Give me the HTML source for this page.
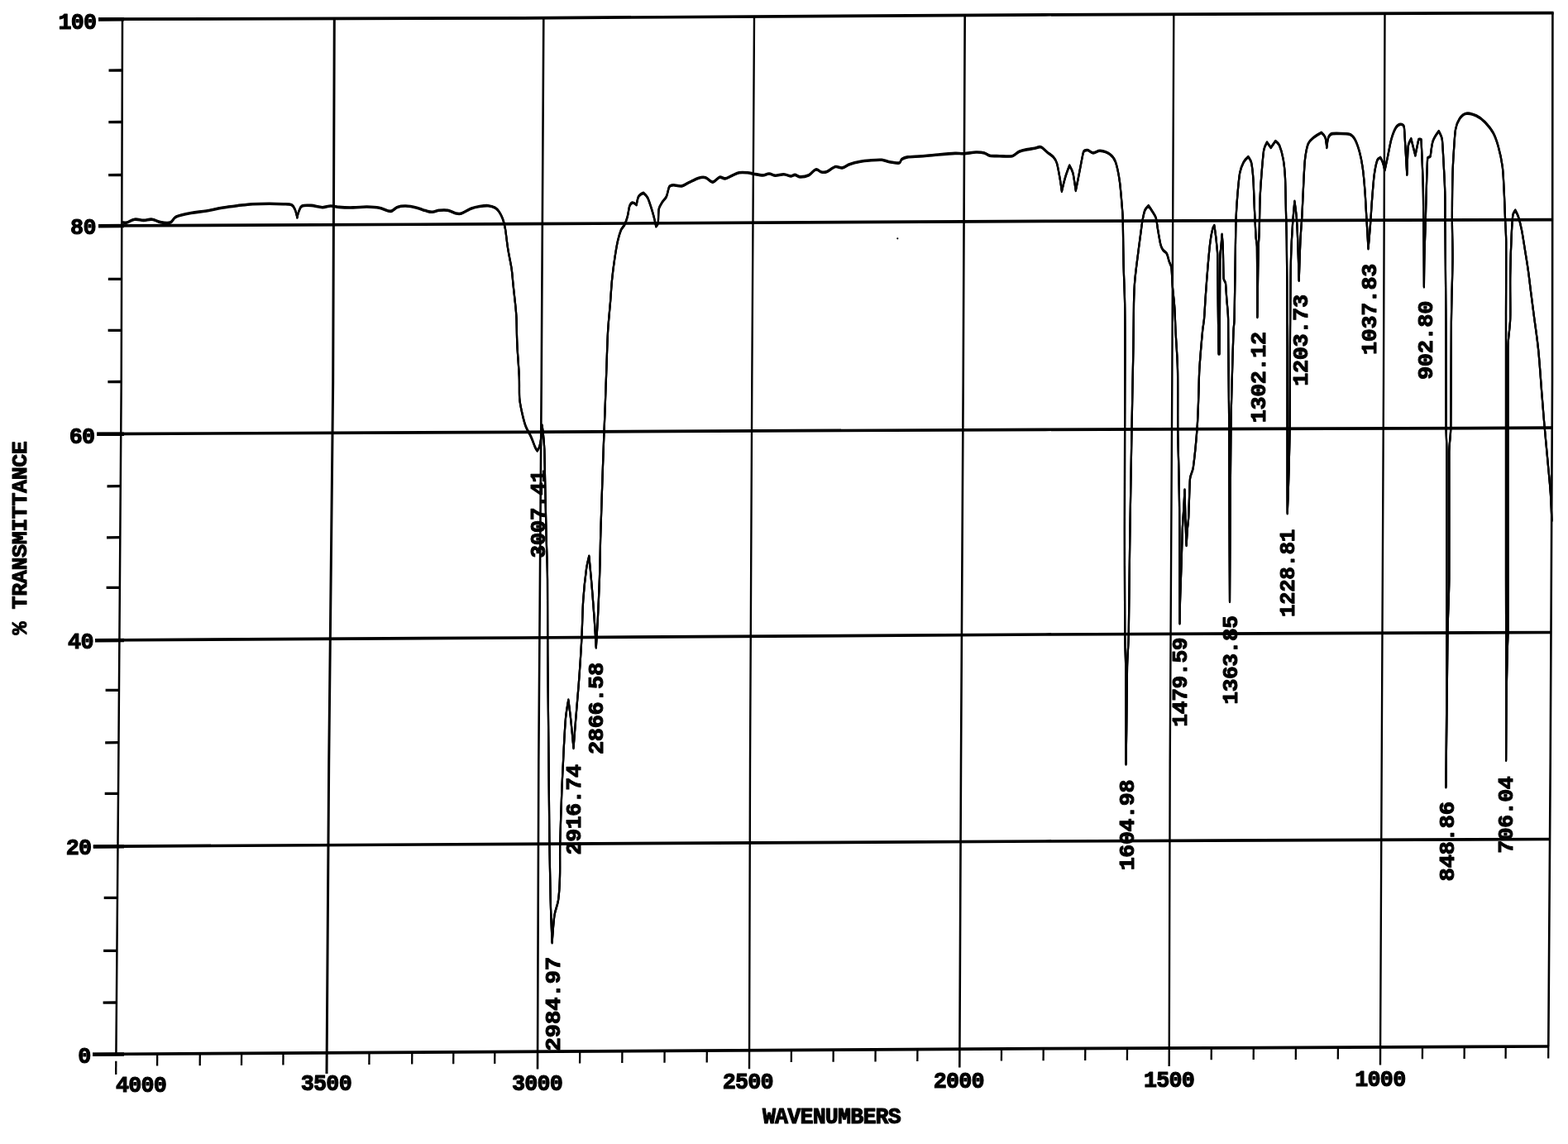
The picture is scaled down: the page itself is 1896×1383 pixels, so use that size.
<!DOCTYPE html>
<html lang="en">
<head>
<meta charset="utf-8">
<title>IR spectrum - % transmittance vs wavenumbers</title>
<style>
html,body{margin:0;padding:0;background:#fff;}
body{width:1896px;height:1383px;overflow:hidden;font-family:"Liberation Mono",monospace;}
svg{display:block;}
</style>
</head>
<body>
<svg width="1896" height="1383" viewBox="0 0 1896 1383">
<rect x="0" y="0" width="1896" height="1383" fill="#fff"/>
<g fill="none" stroke="#000" stroke-linecap="butt" stroke-linejoin="round">
<polyline points="119.0,23.2 632.0,21.8 1264.0,17.8 1878.6,15.6" stroke-width="3.7"/>
<line x1="119.0" y1="23.4" x2="150.0" y2="23.3" stroke-width="4.5"/>
<polyline points="119.0,273.0 632.0,270.7 1264.0,267.3 1877.4,265.7" stroke-width="3.7"/>
<line x1="119.0" y1="273.2" x2="150.0" y2="273.1" stroke-width="4.5"/>
<polyline points="117.2,524.6 632.0,522.3 1264.0,519.3 1877.0,517.2" stroke-width="3.7"/>
<line x1="117.2" y1="524.8" x2="150.0" y2="524.7" stroke-width="4.5"/>
<polyline points="115.0,774.0 632.0,771.0 1264.0,767.0 1876.0,764.5" stroke-width="3.7"/>
<line x1="115.0" y1="774.2" x2="150.0" y2="774.0" stroke-width="4.5"/>
<polyline points="112.8,1023.3 632.0,1020.3 1264.0,1017.0 1875.0,1014.5" stroke-width="3.7"/>
<line x1="112.8" y1="1023.5" x2="150.0" y2="1023.3" stroke-width="4.5"/>
<polyline points="112.0,1274.5 632.0,1271.3 1264.0,1267.7 1873.0,1265.0" stroke-width="3.7"/>
<line x1="112.0" y1="1274.7" x2="150.0" y2="1274.5" stroke-width="4.5"/>
<polyline points="148.0,23.0 146.7,461.0 143.3,922.0 140.4,1274.0" stroke-width="2.5"/>
<polyline points="404.3,22.0 402.7,461.0 397.7,922.0 395.0,1298.0" stroke-width="3.0"/>
<polyline points="657.3,21.0 654.7,461.0 651.3,922.0 650.0,1292.5" stroke-width="2.6"/>
<polyline points="912.0,20.0 909.3,461.0 907.0,922.0 906.0,1292.2" stroke-width="2.4"/>
<polyline points="1166.7,18.0 1164.7,461.0 1162.0,922.0 1160.3,1290.5" stroke-width="2.6"/>
<polyline points="1419.3,17.0 1417.3,461.0 1414.7,922.0 1413.7,1289.0" stroke-width="2.4"/>
<polyline points="1674.5,16.0 1673.0,461.0 1670.7,922.0 1669.0,1287.5" stroke-width="2.4"/>
<polyline points="1877.4,15.0 1877.0,461.0 1874.7,922.0 1872.3,1265.0" stroke-width="2.6"/>
<line x1="131.5" y1="85.1" x2="147.8" y2="85.0" stroke-width="3.3"/>
<line x1="131.3" y1="147.6" x2="147.6" y2="147.5" stroke-width="3.3"/>
<line x1="131.1" y1="211.6" x2="147.4" y2="211.5" stroke-width="3.3"/>
<line x1="130.8" y1="337.4" x2="147.1" y2="337.3" stroke-width="3.3"/>
<line x1="130.6" y1="399.4" x2="146.9" y2="399.3" stroke-width="3.3"/>
<line x1="130.4" y1="461.6" x2="146.7" y2="461.5" stroke-width="3.3"/>
<line x1="129.5" y1="587.8" x2="145.8" y2="587.7" stroke-width="3.3"/>
<line x1="129.0" y1="649.8" x2="145.3" y2="649.7" stroke-width="3.3"/>
<line x1="128.6" y1="710.4" x2="144.9" y2="710.3" stroke-width="3.3"/>
<line x1="127.6" y1="834.4" x2="143.9" y2="834.3" stroke-width="3.3"/>
<line x1="127.2" y1="897.8" x2="143.5" y2="897.7" stroke-width="3.3"/>
<line x1="126.7" y1="959.4" x2="143.0" y2="959.3" stroke-width="3.3"/>
<line x1="125.7" y1="1085.4" x2="142.0" y2="1085.3" stroke-width="3.3"/>
<line x1="125.1" y1="1149.4" x2="141.4" y2="1149.3" stroke-width="3.3"/>
<line x1="124.6" y1="1212.1" x2="140.9" y2="1212.0" stroke-width="3.3"/>
<line x1="190.2" y1="1274.0" x2="190.1" y2="1288.5" stroke-width="2.3"/>
<line x1="241.8" y1="1273.7" x2="241.7" y2="1288.2" stroke-width="2.3"/>
<line x1="292.1" y1="1273.4" x2="292.0" y2="1287.9" stroke-width="2.3"/>
<line x1="342.5" y1="1273.1" x2="342.4" y2="1287.6" stroke-width="2.3"/>
<line x1="446.5" y1="1272.4" x2="446.4" y2="1286.9" stroke-width="2.3"/>
<line x1="498.3" y1="1272.1" x2="498.2" y2="1286.6" stroke-width="2.3"/>
<line x1="548.3" y1="1271.8" x2="548.2" y2="1286.3" stroke-width="2.3"/>
<line x1="598.3" y1="1271.5" x2="598.2" y2="1286.0" stroke-width="2.3"/>
<line x1="701.2" y1="1270.9" x2="701.1" y2="1285.4" stroke-width="2.3"/>
<line x1="752.4" y1="1270.6" x2="752.3" y2="1285.1" stroke-width="2.3"/>
<line x1="803.6" y1="1270.3" x2="803.5" y2="1284.8" stroke-width="2.3"/>
<line x1="854.8" y1="1270.0" x2="854.7" y2="1284.5" stroke-width="2.3"/>
<line x1="956.9" y1="1269.4" x2="956.8" y2="1283.9" stroke-width="2.3"/>
<line x1="1007.7" y1="1269.2" x2="1007.6" y2="1283.7" stroke-width="2.3"/>
<line x1="1058.6" y1="1268.9" x2="1058.5" y2="1283.4" stroke-width="2.3"/>
<line x1="1109.4" y1="1268.6" x2="1109.3" y2="1283.1" stroke-width="2.3"/>
<line x1="1211.0" y1="1268.0" x2="1210.9" y2="1282.5" stroke-width="2.3"/>
<line x1="1261.7" y1="1267.7" x2="1261.6" y2="1282.2" stroke-width="2.3"/>
<line x1="1312.3" y1="1267.5" x2="1312.2" y2="1282.0" stroke-width="2.3"/>
<line x1="1363.0" y1="1267.3" x2="1362.9" y2="1281.8" stroke-width="2.3"/>
<line x1="1464.8" y1="1266.8" x2="1464.7" y2="1281.3" stroke-width="2.3"/>
<line x1="1515.8" y1="1266.6" x2="1515.7" y2="1281.1" stroke-width="2.3"/>
<line x1="1566.9" y1="1266.4" x2="1566.8" y2="1280.9" stroke-width="2.3"/>
<line x1="1617.9" y1="1266.1" x2="1617.8" y2="1280.6" stroke-width="2.3"/>
<line x1="1720.0" y1="1265.7" x2="1719.9" y2="1280.2" stroke-width="2.3"/>
<line x1="1770.7" y1="1265.5" x2="1770.6" y2="1280.0" stroke-width="2.3"/>
<line x1="1820.7" y1="1265.2" x2="1820.6" y2="1279.7" stroke-width="2.3"/>
<line x1="1872.3" y1="1265.0" x2="1872.2" y2="1279.5" stroke-width="2.3"/>
<line x1="140.3" y1="1282.8" x2="140.2" y2="1299" stroke-width="2.3"/>
</g>
<g fill="none" stroke="#000" stroke-linejoin="round" stroke-linecap="round">
<path id="trace" d="M147.6,268.9C148.7,268.9 151.4,269.5 153.5,269.0C155.6,268.5 159.1,265.7 162.8,265.2C166.5,264.7 170.1,266.4 173.8,266.4C177.5,266.4 180.2,264.8 183.9,265.2C187.6,265.6 190.1,267.9 194.0,268.6C197.9,269.3 202.5,270.1 205.8,269.0C209.1,267.9 209.4,263.7 212.6,262.2C215.8,260.7 224.2,258.8 231.0,257.5C237.8,256.2 242.9,256.2 249.7,255.0C256.5,253.8 261.6,252.3 268.3,251.2C275.0,250.1 280.0,249.5 286.8,248.7C293.6,247.9 298.6,247.1 305.4,246.7C312.2,246.3 319.5,246.2 325.7,246.2C331.9,246.2 338.7,246.5 342.5,246.7C346.3,246.9 350.3,246.6 352.7,247.8C355.1,249.0 355.8,251.3 356.9,253.8C358.0,256.3 359.4,263.0 359.4,263.0C359.4,263.0 360.3,257.9 361.4,255.4C362.5,252.9 362.8,250.2 365.3,249.0C367.8,247.8 372.3,248.1 376.3,248.4C380.3,248.7 386.0,250.6 389.8,250.7C393.6,250.8 396.2,249.1 399.9,249.0C403.6,248.9 406.3,250.1 410.0,250.4C413.7,250.7 420.8,251.0 427.0,250.9C433.2,250.8 438.4,249.9 443.8,250.0C449.2,250.1 453.5,250.2 458.6,251.2C463.7,252.2 468.5,255.5 472.1,255.4C475.7,255.3 477.1,251.6 480.5,250.4C483.9,249.2 486.9,248.9 490.6,249.0C494.3,249.1 500.3,250.3 504.1,251.2C507.9,252.1 511.3,253.8 514.3,254.6C517.3,255.4 519.6,256.4 522.7,256.3C525.8,256.2 528.0,254.6 531.1,254.3C534.2,254.0 537.6,253.6 541.3,254.3C545.0,255.0 549.0,257.5 551.4,258.0C553.8,258.5 555.8,258.8 558.1,258.0C560.4,257.2 566.4,253.4 570.0,252.0C573.6,250.6 576.4,250.1 580.1,249.5C583.8,248.9 587.0,248.4 590.2,248.7C593.4,249.0 596.3,249.9 598.6,251.2C600.9,252.5 602.2,254.1 603.7,256.3C605.2,258.5 606.7,261.5 607.9,264.7C609.1,267.9 610.2,272.3 611.0,276.8C611.8,281.3 612.8,292.1 614.2,300.9C615.6,309.7 617.6,318.0 618.6,324.9C619.6,331.8 619.8,336.9 620.5,343.9C621.2,350.9 622.3,360.0 623.0,366.7C623.7,373.4 624.2,378.3 624.5,385.0C624.8,391.7 624.8,405.7 625.4,417.6C626.0,429.5 627.4,445.6 627.8,455.2C628.2,464.8 627.7,475.4 628.2,481.5C628.7,487.6 629.7,492.0 631.0,498.0C632.3,504.0 633.8,510.4 635.7,515.4C637.6,520.4 640.4,524.2 642.3,528.5C644.2,532.8 646.2,538.7 647.0,540.5C647.8,542.3 649.7,545.0 649.7,545.0C649.7,545.0 651.7,542.0 652.3,540.0C652.9,538.0 654.0,532.4 654.5,528.0C655.0,523.6 655.5,514.0 655.5,514.0C655.5,514.0 656.4,520.3 656.8,524.0C657.2,527.7 658.0,536.3 658.3,543.4C658.6,550.5 659.1,583.6 659.5,600.0C659.9,616.4 660.1,628.2 660.5,644.6C660.9,661.0 661.8,679.7 662.0,700.0C662.2,720.3 662.1,758.0 662.3,791.6C662.5,825.2 663.2,883.2 663.5,920.0C663.8,956.8 664.1,995.5 664.4,1020.3C664.7,1045.1 665.2,1069.0 665.7,1088.0C666.2,1107.0 667.6,1139.7 667.6,1139.7C667.6,1139.7 669.4,1113.8 670.4,1106.8C671.4,1099.8 674.1,1095.0 675.1,1088.0C676.1,1081.0 676.7,1070.2 677.0,1059.8C677.3,1049.4 676.9,1034.8 677.2,1020.3C677.5,1005.8 678.8,970.2 679.3,956.4C679.8,942.6 680.8,925.7 681.1,918.8C681.4,911.9 681.6,906.9 682.0,900.0C682.4,893.1 683.2,876.1 684.0,868.0C684.8,859.9 687.3,846.1 687.3,846.1C687.3,846.1 689.1,860.0 690.0,868.0C690.9,876.0 693.5,904.4 693.5,904.4C693.5,904.4 695.0,883.9 696.0,872.0C697.0,860.1 698.4,844.8 699.6,829.0C700.8,813.2 702.4,790.0 703.3,772.8C704.2,755.6 704.3,739.7 705.2,725.8C706.1,711.9 708.2,693.9 709.0,688.0C709.8,682.1 712.3,672.2 712.3,672.2C712.3,672.2 714.4,694.2 715.5,707.0C716.6,719.8 717.4,730.8 718.4,744.6C719.4,758.4 720.8,783.0 720.8,783.0C720.8,783.0 722.3,758.7 723.0,744.6C723.7,730.5 724.5,711.4 725.0,697.6C725.5,683.8 725.8,665.6 725.9,660.0C726.0,654.4 726.1,650.2 726.3,644.6C726.5,639.0 727.2,617.0 727.7,601.0C728.2,585.0 729.3,554.7 729.8,540.0C730.3,525.3 730.8,514.7 731.4,500.0C732.0,485.3 732.5,468.3 733.2,450.0C733.9,431.7 734.3,413.6 735.1,400.0C735.9,386.4 737.5,372.2 738.2,362.9C738.9,353.6 739.2,346.9 740.1,337.6C741.0,328.3 742.1,320.2 743.3,312.3C744.5,304.4 746.0,295.5 747.1,290.8C748.2,286.1 749.8,280.8 750.9,278.1C752.0,275.4 754.0,274.1 755.3,271.5C756.6,268.9 757.7,265.6 758.7,262.0C759.7,258.4 760.5,251.2 761.2,249.3C761.9,247.4 763.0,245.4 764.6,245.1C766.2,244.8 769.7,247.6 769.7,247.6C769.7,247.6 770.9,239.8 772.2,237.5C773.5,235.2 778.1,233.3 778.1,233.3C778.1,233.3 781.9,236.7 783.2,239.2C784.5,241.7 786.0,246.7 787.4,251.0C788.8,255.3 789.8,258.8 790.8,262.8C791.8,266.8 793.3,273.8 793.3,273.8C793.3,273.8 795.5,271.4 795.8,269.6C796.1,267.8 796.0,256.1 796.7,252.7C797.4,249.3 799.3,246.9 800.9,244.3C802.5,241.7 804.6,240.3 805.9,237.5C807.2,234.7 808.2,227.4 809.3,225.7C810.4,224.0 812.4,223.8 814.4,223.7C816.4,223.6 821.1,225.5 824.5,224.9C827.9,224.3 829.8,222.1 833.0,220.6C836.2,219.1 841.8,216.1 844.8,215.2C847.8,214.3 850.2,213.8 853.2,214.7C856.2,215.6 858.5,220.2 861.6,220.1C864.7,220.0 867.7,214.9 870.1,214.2C872.5,213.5 874.3,216.2 876.8,215.9C879.3,215.6 882.2,213.5 885.3,212.2C888.4,210.9 890.4,209.4 893.7,208.8C897.0,208.2 901.0,208.6 903.8,208.8C906.6,209.0 908.6,209.7 911.4,210.2C914.2,210.7 919.5,211.9 922.4,211.9C925.3,211.9 927.2,209.9 930.0,210.0C932.8,210.1 934.7,212.1 937.6,212.2C940.5,212.3 944.5,210.7 947.7,210.8C950.9,210.9 954.3,212.9 956.2,213.0C958.1,213.1 959.3,211.3 961.2,211.4C963.1,211.5 965.3,213.9 968.0,213.9C970.7,213.9 974.7,213.3 978.1,211.7C981.5,210.0 983.8,205.5 986.5,204.9C989.2,204.3 990.9,207.5 993.3,208.0C995.7,208.5 997.7,208.4 1000.0,207.5C1002.3,206.6 1007.2,202.3 1010.2,201.6C1013.2,200.9 1015.5,203.4 1018.6,202.9C1021.7,202.4 1023.7,199.8 1027.0,198.7C1030.3,197.6 1035.8,196.2 1040.5,195.3C1045.2,194.4 1048.9,194.2 1053.5,193.8C1058.1,193.4 1062.7,193.0 1066.2,193.3C1069.7,193.6 1072.0,195.2 1075.4,195.8C1078.8,196.4 1085.3,197.5 1087.3,197.0C1089.3,196.5 1088.9,193.6 1090.6,192.4C1092.3,191.2 1094.8,190.3 1097.4,189.9C1100.0,189.5 1109.2,189.2 1116.0,188.7C1122.8,188.2 1127.7,187.6 1134.5,187.0C1141.3,186.4 1150.8,185.6 1154.8,185.4C1158.8,185.2 1161.7,185.9 1165.7,185.7C1169.7,185.5 1176.4,184.1 1180.1,184.0C1183.8,183.9 1187.5,184.2 1190.2,184.9C1192.9,185.6 1194.3,187.6 1197.0,188.2C1199.7,188.8 1204.5,188.6 1208.8,188.7C1213.1,188.8 1220.4,189.5 1224.0,188.7C1227.6,187.9 1229.0,184.7 1232.4,183.2C1235.8,181.7 1239.4,181.2 1242.5,180.6C1245.6,180.0 1248.2,179.8 1251.0,179.3C1253.8,178.8 1255.9,177.0 1258.6,177.8C1261.3,178.6 1263.4,181.8 1266.2,184.0C1269.0,186.2 1271.7,187.5 1273.8,189.9C1275.9,192.3 1277.1,194.5 1278.0,197.5C1278.9,200.5 1280.3,208.2 1281.4,214.4C1282.5,220.6 1283.9,231.3 1283.9,231.3C1283.9,231.3 1286.5,219.8 1288.1,214.4C1289.7,209.0 1293.2,200.0 1293.2,200.0C1293.2,200.0 1296.5,205.7 1297.4,209.3C1298.3,212.9 1300.8,230.4 1300.8,230.4C1300.8,230.4 1303.5,217.0 1305.0,209.3C1306.5,201.6 1309.3,186.0 1310.0,184.0C1310.7,182.0 1313.0,181.3 1315.1,181.5C1317.2,181.7 1319.1,184.8 1321.9,184.9C1324.7,185.0 1327.1,182.0 1330.3,182.3C1333.5,182.6 1338.7,184.0 1342.1,186.5C1345.5,189.0 1347.5,191.8 1348.9,195.8C1350.3,199.8 1352.7,210.7 1353.9,219.5C1355.1,228.3 1357.0,252.7 1357.3,256.6C1357.6,260.5 1357.7,263.3 1357.8,267.2C1357.9,271.1 1358.2,302.6 1358.6,319.8C1359.0,337.0 1359.8,349.6 1360.1,366.8C1360.4,384.0 1360.4,400.5 1360.4,420.0C1360.4,439.5 1360.2,482.1 1360.1,518.0C1360.0,553.9 1359.9,595.3 1359.9,640.0C1359.9,684.7 1360.1,751.0 1360.2,766.0C1360.3,781.0 1361.0,792.0 1361.2,807.0C1361.4,822.0 1361.5,863.9 1361.5,880.0C1361.5,896.1 1361.5,924.0 1361.5,924.0C1361.5,924.0 1362.0,896.1 1362.2,880.0C1362.4,863.9 1362.7,822.0 1363.0,807.0C1363.3,792.0 1364.5,781.0 1364.8,766.0C1365.1,751.0 1365.7,684.6 1366.4,640.0C1367.1,595.4 1367.8,554.5 1368.5,518.4C1369.2,482.3 1370.1,439.5 1370.4,420.0C1370.7,400.5 1370.8,377.1 1371.0,366.8C1371.2,356.5 1371.4,348.9 1372.3,338.6C1373.2,328.3 1375.0,315.6 1376.1,306.6C1377.2,297.6 1378.5,288.4 1379.3,282.2C1380.1,276.0 1380.9,269.5 1381.7,265.3C1382.5,261.1 1383.5,256.3 1384.5,254.0C1385.5,251.7 1388.7,248.7 1388.7,248.7C1388.7,248.7 1391.5,252.6 1393.0,255.0C1394.5,257.4 1396.6,260.0 1397.7,263.4C1398.8,266.8 1399.1,271.8 1399.9,276.6C1400.7,281.4 1402.7,292.8 1403.3,295.4C1403.9,298.0 1404.8,300.0 1406.1,302.0C1407.4,304.0 1409.6,304.5 1410.8,306.6C1412.0,308.7 1412.8,313.2 1413.7,316.0C1414.6,318.8 1416.1,320.7 1416.5,323.6C1416.9,326.5 1417.3,339.7 1418.0,348.0C1418.7,356.3 1419.6,362.3 1420.2,370.6C1420.8,378.9 1421.0,389.2 1421.5,400.0C1422.0,410.8 1423.6,429.7 1424.0,447.0C1424.4,464.3 1424.0,499.8 1424.2,518.4C1424.4,537.0 1425.1,555.4 1425.4,569.2C1425.7,583.0 1425.8,594.6 1426.0,606.8C1426.2,619.0 1426.2,627.8 1426.3,640.0C1426.4,652.2 1426.4,680.2 1426.4,700.0C1426.4,719.8 1426.5,753.9 1426.5,753.9C1426.5,753.9 1426.8,732.4 1427.2,720.0C1427.6,707.6 1428.1,694.7 1428.6,680.0C1429.1,665.3 1429.4,649.2 1429.8,640.0C1430.2,630.8 1430.8,623.4 1431.3,615.0C1431.8,606.6 1432.5,592.0 1432.5,592.0C1432.5,592.0 1433.2,619.2 1433.5,630.0C1433.8,640.8 1434.6,659.5 1434.6,659.5C1434.6,659.5 1435.4,645.3 1435.8,640.0C1436.2,634.7 1436.9,630.9 1437.2,625.6C1437.5,620.3 1438.5,583.6 1439.0,578.6C1439.5,573.6 1442.1,570.4 1442.8,565.4C1443.5,560.4 1446.3,534.2 1447.5,518.4C1448.7,502.6 1449.0,485.5 1449.4,475.2C1449.8,464.9 1449.7,457.3 1450.3,447.0C1450.9,436.7 1453.6,405.3 1454.1,400.0C1454.6,394.7 1455.5,390.9 1456.0,385.6C1456.5,380.3 1457.1,367.7 1457.8,357.4C1458.5,347.1 1459.8,330.2 1460.7,319.8C1461.6,309.4 1462.8,297.1 1463.5,291.6C1464.2,286.1 1465.9,278.2 1466.3,276.6C1466.7,275.0 1468.3,272.5 1468.3,272.5C1468.3,272.5 1469.9,283.3 1470.4,287.8C1470.9,292.3 1471.3,297.1 1471.6,300.0C1471.9,302.9 1472.1,305.1 1472.2,308.0C1472.3,310.9 1472.6,348.7 1472.8,370.0C1473.0,391.3 1473.6,428.0 1473.6,428.0C1473.6,428.0 1474.5,428.0 1474.5,428.0C1474.5,428.0 1474.9,391.3 1475.0,370.0C1475.1,348.7 1475.2,311.0 1475.3,308.0C1475.4,305.0 1476.0,302.9 1476.3,300.0C1476.6,297.1 1477.6,283.3 1477.6,283.3C1477.6,283.3 1478.6,293.9 1478.8,300.0C1479.0,306.1 1479.4,334.5 1479.6,336.8C1479.8,339.1 1481.7,340.3 1482.0,342.6C1482.3,344.9 1483.0,358.0 1483.4,362.8C1483.8,367.6 1484.3,372.3 1484.6,376.0C1484.9,379.7 1485.0,382.3 1485.1,386.0C1485.2,389.7 1485.2,407.5 1485.3,420.0C1485.4,432.5 1486.0,482.1 1486.2,518.0C1486.4,553.9 1486.5,608.0 1486.6,640.0C1486.7,672.0 1487.0,727.4 1487.0,727.4C1487.0,727.4 1487.3,672.0 1487.5,640.0C1487.7,608.0 1488.1,542.9 1488.4,518.0C1488.7,493.1 1489.5,468.3 1490.0,450.0C1490.5,431.7 1491.3,405.3 1491.5,400.0C1491.7,394.7 1492.5,390.9 1492.6,385.6C1492.7,380.3 1493.3,339.1 1493.6,319.8C1493.9,300.5 1494.1,278.9 1494.5,267.2C1494.9,255.5 1495.6,244.9 1496.4,235.2C1497.2,225.5 1498.3,213.8 1499.2,208.9C1500.1,204.0 1502.3,198.8 1503.8,196.0C1505.3,193.2 1509.4,189.5 1509.4,189.5C1509.4,189.5 1512.6,194.0 1513.2,197.0C1513.8,200.0 1515.0,210.3 1515.5,218.0C1516.0,225.7 1516.3,240.4 1516.9,252.8C1517.5,265.2 1518.3,282.4 1518.6,286.6C1518.9,290.8 1519.8,293.8 1519.9,298.0C1520.0,302.2 1520.1,324.6 1520.2,340.0C1520.3,355.4 1520.4,383.5 1520.4,383.5C1520.4,383.5 1520.8,355.4 1521.0,340.0C1521.2,324.6 1521.5,304.6 1521.7,298.0C1521.9,291.4 1522.5,286.6 1522.7,280.0C1522.9,273.4 1523.2,250.5 1523.6,240.0C1524.0,229.5 1524.6,221.9 1525.4,211.4C1526.2,200.9 1527.6,185.1 1528.2,181.4C1528.8,177.7 1532.0,172.0 1532.0,172.0C1532.0,172.0 1536.7,178.5 1536.7,178.5C1536.7,178.5 1542.3,170.5 1542.3,170.5C1542.3,170.5 1546.0,173.3 1547.0,175.7C1548.0,178.1 1550.6,186.3 1551.7,192.6C1552.8,198.9 1553.6,206.9 1554.0,215.2C1554.4,223.5 1554.6,239.0 1554.9,252.8C1555.2,266.6 1555.6,276.6 1555.8,290.4C1556.0,304.2 1556.2,325.0 1556.3,345.0C1556.4,365.0 1556.6,392.5 1556.6,420.0C1556.6,447.5 1556.6,492.9 1556.6,516.0C1556.6,539.1 1556.6,563.7 1556.6,579.0C1556.6,594.3 1556.7,620.7 1556.7,620.7C1556.7,620.7 1557.8,594.3 1558.2,579.0C1558.6,563.7 1559.4,539.1 1559.6,516.0C1559.8,492.9 1559.8,447.5 1559.9,420.0C1560.0,392.5 1560.4,358.1 1560.5,345.0C1560.6,331.9 1560.7,322.3 1561.1,309.2C1561.5,296.1 1562.3,282.0 1563.0,271.6C1563.7,261.2 1565.4,243.4 1565.4,243.4C1565.4,243.4 1567.1,255.3 1567.7,262.2C1568.3,269.1 1568.8,280.1 1569.2,290.4C1569.6,300.7 1570.7,339.3 1570.7,339.3C1570.7,339.3 1571.9,300.8 1572.4,290.4C1572.9,280.0 1573.7,272.5 1574.3,262.2C1574.9,251.9 1575.5,236.3 1576.1,224.6C1576.7,212.9 1577.2,199.6 1578.0,192.6C1578.8,185.6 1580.5,177.2 1581.8,173.8C1583.1,170.4 1585.6,168.7 1588.4,166.3C1591.2,163.9 1597.8,160.3 1597.8,160.3C1597.8,160.3 1601.6,163.7 1602.5,166.3C1603.4,168.9 1604.3,178.5 1604.3,178.5C1604.3,178.5 1605.3,168.6 1606.2,166.3C1607.1,164.0 1608.5,162.0 1610.9,161.6C1613.3,161.2 1628.4,161.4 1631.6,162.2C1634.8,163.0 1636.6,165.4 1638.2,168.2C1639.8,171.0 1642.2,177.5 1643.8,183.2C1645.4,188.9 1646.6,195.0 1647.6,202.0C1648.6,209.0 1649.6,219.8 1650.4,230.2C1651.2,240.6 1651.6,250.5 1652.3,262.2C1653.0,273.9 1654.5,300.7 1654.5,300.7C1654.5,300.7 1656.2,281.9 1657.0,271.6C1657.8,261.3 1658.1,253.7 1658.9,243.4C1659.7,233.1 1660.8,218.0 1661.7,211.4C1662.6,204.8 1664.8,195.3 1665.4,193.6C1666.0,191.9 1669.2,190.4 1669.2,190.4C1669.2,190.4 1671.2,194.1 1672.0,196.4C1672.8,198.7 1674.5,205.8 1674.5,205.8C1674.5,205.8 1676.5,196.3 1677.7,190.8C1678.9,185.3 1680.9,173.6 1682.4,168.2C1683.9,162.8 1686.7,156.2 1688.0,154.1C1689.3,152.0 1691.8,150.4 1693.6,150.3C1695.4,150.2 1697.4,151.6 1697.8,153.5C1698.2,155.4 1698.7,167.0 1699.2,174.8C1699.7,182.6 1701.3,211.2 1701.3,211.2C1701.3,211.2 1702.3,180.4 1702.7,176.8C1703.1,173.2 1706.3,167.7 1706.3,167.7C1706.3,167.7 1711.4,188.0 1711.4,188.0C1711.4,188.0 1715.0,169.8 1715.4,168.7C1715.8,167.6 1718.5,168.7 1718.5,168.7C1718.5,168.7 1719.2,182.8 1719.5,191.0C1719.8,199.2 1720.5,213.8 1720.8,227.0C1721.1,240.2 1721.1,258.1 1721.3,272.0C1721.5,285.9 1721.6,296.5 1721.7,310.0C1721.8,323.5 1721.9,346.9 1721.9,346.9C1721.9,346.9 1722.1,323.5 1722.4,310.0C1722.7,296.5 1723.2,285.9 1723.6,272.0C1724.0,258.1 1724.5,238.0 1724.9,225.4C1725.3,212.8 1726.0,192.4 1726.2,191.0C1726.4,189.6 1729.2,190.4 1729.6,189.0C1730.0,187.6 1731.0,175.6 1732.6,170.7C1734.2,165.8 1739.7,158.6 1739.7,158.6C1739.7,158.6 1743.2,164.7 1743.8,168.7C1744.4,172.7 1745.2,190.0 1745.8,201.1C1746.4,212.2 1746.9,220.3 1747.2,231.5C1747.5,242.7 1747.3,253.3 1747.4,265.9C1747.5,278.5 1747.7,295.4 1747.8,312.5C1747.9,329.6 1748.3,361.6 1748.4,390.0C1748.5,418.4 1748.5,505.6 1748.6,516.7C1748.7,527.8 1749.4,535.9 1749.4,547.0C1749.4,558.1 1749.4,676.5 1749.4,700.0C1749.4,723.5 1749.3,740.5 1749.3,764.0C1749.3,787.5 1749.4,818.5 1749.2,850.0C1749.0,881.5 1748.4,951.8 1748.4,951.8C1748.4,951.8 1749.2,881.5 1749.6,850.0C1750.0,818.5 1750.1,787.5 1750.5,764.0C1750.9,740.5 1752.1,723.5 1752.3,700.0C1752.5,676.5 1752.2,558.1 1752.3,547.0C1752.4,535.9 1754.1,527.8 1754.3,516.7C1754.5,505.6 1754.6,418.4 1754.9,390.0C1755.2,361.6 1756.4,329.6 1756.5,312.5C1756.6,295.4 1755.9,283.0 1755.9,265.9C1755.9,248.8 1756.2,222.3 1756.5,211.2C1756.8,200.1 1757.4,189.8 1758.0,180.9C1758.6,172.0 1759.1,161.7 1760.0,156.6C1760.9,151.5 1762.9,146.5 1765.0,143.4C1767.1,140.3 1769.4,137.9 1773.1,137.3C1776.8,136.7 1781.2,138.1 1785.3,140.0C1789.4,141.9 1792.2,144.2 1795.4,147.5C1798.6,150.8 1802.6,155.3 1805.5,160.6C1808.4,165.9 1809.9,170.7 1811.6,176.8C1813.3,182.9 1815.5,192.1 1816.7,201.1C1817.9,210.1 1818.1,220.3 1818.7,231.5C1819.3,242.7 1819.7,256.3 1820.1,265.9C1820.5,275.5 1821.1,282.5 1821.2,292.2C1821.3,301.9 1821.0,365.0 1821.0,380.0C1821.0,395.0 1821.0,406.0 1821.0,421.0C1821.0,436.0 1821.0,676.5 1821.0,700.0C1821.0,723.5 1821.1,740.5 1821.1,764.0C1821.1,787.5 1821.1,816.4 1821.1,844.0C1821.1,871.6 1821.1,919.2 1821.1,919.2C1821.1,919.2 1821.4,863.8 1821.6,844.0C1821.8,824.2 1822.4,799.5 1822.6,790.0C1822.8,780.5 1823.4,773.5 1823.4,764.0C1823.4,754.5 1823.3,434.2 1823.4,421.0C1823.5,407.8 1825.8,398.2 1826.2,385.0C1826.6,371.8 1825.9,351.3 1826.2,332.7C1826.5,314.1 1827.4,290.3 1827.8,282.1C1828.2,273.9 1829.0,262.1 1829.4,259.8C1829.8,257.5 1832.3,254.2 1832.3,254.2C1832.3,254.2 1834.9,258.9 1835.9,261.9C1836.9,264.9 1838.8,272.1 1840.0,278.1C1841.2,284.1 1842.6,293.4 1844.0,302.3C1845.4,311.2 1846.9,319.8 1848.1,328.7C1849.3,337.6 1850.0,344.1 1851.1,353.0C1852.2,361.9 1853.6,372.0 1855.0,383.0C1856.4,394.0 1858.7,408.5 1860.2,423.4C1861.7,438.3 1863.3,463.3 1864.5,477.6C1865.7,491.9 1866.4,502.4 1867.7,516.7C1869.0,531.0 1871.0,552.5 1872.1,564.4C1873.2,576.3 1874.1,585.0 1874.9,596.9C1875.7,608.8 1876.1,623.4 1876.4,629.4" stroke-width="2.2"/>
<use href="#trace" transform="translate(0,-0.7)"/>
<use href="#trace" transform="translate(0,0.7)"/>
</g>
<circle cx="1085.3" cy="288.3" r="1.1" fill="#000"/>
<g font-family="'Liberation Mono', monospace" font-weight="bold" font-size="26.8" fill="#000" stroke="#000" stroke-width="1.1" stroke-linejoin="round" style="white-space:pre">
<text transform="translate(70.40,34.80) scale(1.0,1.05)" letter-spacing="-0.8" x="0" y="0">100</text>
<text transform="translate(85.10,283.00) scale(1.0,1.05)" letter-spacing="-0.8" x="0" y="0">80</text>
<text transform="translate(83.70,535.60) scale(1.0,1.05)" letter-spacing="-0.8" x="0" y="0">60</text>
<text transform="translate(82.10,784.00) scale(1.0,1.05)" letter-spacing="-0.8" x="0" y="0">40</text>
<text transform="translate(79.80,1032.60) scale(1.0,1.05)" letter-spacing="-0.8" x="0" y="0">20</text>
<text transform="translate(94.30,1285.00) scale(1.0,1.05)" letter-spacing="-0.8" x="0" y="0">0</text>
<text transform="translate(139.90,1320.00) scale(1.0,1.05)" letter-spacing="-0.8" x="0" y="0">4000</text>
<text transform="translate(363.80,1317.90) scale(1.0,1.05)" letter-spacing="-0.8" x="0" y="0">3500</text>
<text transform="translate(618.90,1317.60) scale(1.0,1.05)" letter-spacing="-0.8" x="0" y="0">3000</text>
<text transform="translate(873.70,1316.00) scale(1.0,1.05)" letter-spacing="-0.8" x="0" y="0">2500</text>
<text transform="translate(1128.70,1314.80) scale(1.0,1.05)" letter-spacing="-0.8" x="0" y="0">2000</text>
<text transform="translate(1383.00,1314.10) scale(1.0,1.05)" letter-spacing="-0.8" x="0" y="0">1500</text>
<text transform="translate(1638.30,1313.10) scale(1.0,1.05)" letter-spacing="-0.8" x="0" y="0">1000</text>
<text transform="translate(921.90,1357.70) scale(0.9941,1.05)" letter-spacing="-0.8" x="0" y="0">WAVENUMBERS</text>
<text transform="translate(31.90,767.60) rotate(-90) scale(0.9957,0.95)" letter-spacing="-0.4" x="0" y="0">% TRANSMITTANCE</text>
<text transform="translate(659.20,674.40) rotate(-90) scale(0.965,0.95)" letter-spacing="-0.4" x="0" y="0">3007.41</text>
<text transform="translate(676.80,1270.70) rotate(-90) scale(1.035,0.95)" letter-spacing="-0.4" x="0" y="0">2984.97</text>
<text transform="translate(702.10,1033.40) rotate(-90) scale(0.9917,0.95)" letter-spacing="-0.4" x="0" y="0">2916.74</text>
<text transform="translate(729.00,912.00) rotate(-90) scale(1.0093,0.95)" letter-spacing="-0.4" x="0" y="0">2866.58</text>
<text transform="translate(1370.90,1052.30) rotate(-90) scale(0.9963,0.95)" letter-spacing="-0.4" x="0" y="0">1604.98</text>
<text transform="translate(1435.00,878.70) rotate(-90) scale(0.9843,0.95)" letter-spacing="-0.4" x="0" y="0">1479.59</text>
<text transform="translate(1496.20,851.50) rotate(-90) scale(0.975,0.95)" letter-spacing="-0.4" x="0" y="0">1363.85</text>
<text transform="translate(1529.50,511.20) rotate(-90) scale(1.0009,0.95)" letter-spacing="-0.4" x="0" y="0">1302.12</text>
<text transform="translate(1565.30,746.10) rotate(-90) scale(0.965,0.95)" letter-spacing="-0.4" x="0" y="0">1228.81</text>
<text transform="translate(1580.50,466.70) rotate(-90) scale(1.0056,0.95)" letter-spacing="-0.4" x="0" y="0">1203.73</text>
<text transform="translate(1663.60,428.90) rotate(-90) scale(1.0009,0.95)" letter-spacing="-0.4" x="0" y="0">1037.83</text>
<text transform="translate(1731.60,459.00) rotate(-90) scale(1.0109,0.95)" letter-spacing="-0.4" x="0" y="0">902.80</text>
<text transform="translate(1757.70,1065.50) rotate(-90) scale(1.0228,0.95)" letter-spacing="-0.4" x="0" y="0">848.86</text>
<text transform="translate(1829.20,1031.80) rotate(-90) scale(0.9903,0.95)" letter-spacing="-0.4" x="0" y="0">706.04</text>
</g>
</svg>
</body>
</html>
